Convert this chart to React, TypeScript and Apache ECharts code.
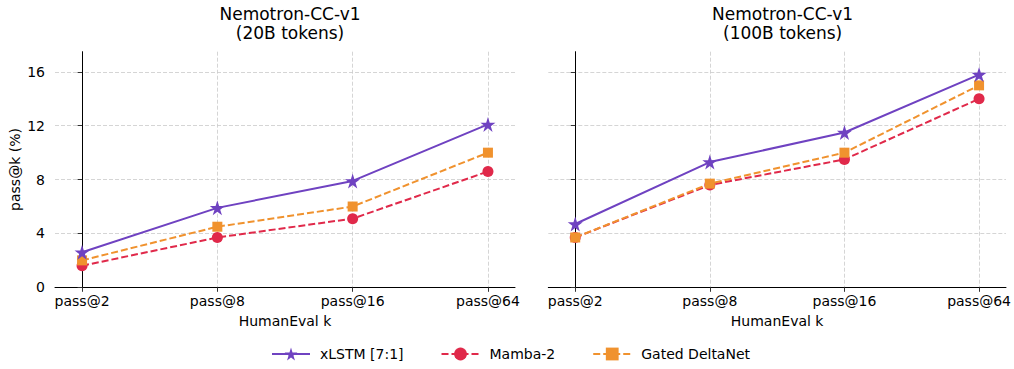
import React, { useEffect, useRef } from "react";
import * as echarts from "echarts";

const categories = ["pass@2", "pass@8", "pass@16", "pass@64"];
const xlstm20 = [2.6, 5.9, 7.9, 12.1];
const mamba20 = [1.6, 3.7, 5.1, 8.6];
const gdn20 = [2.0, 4.5, 6.0, 10.0];
const xlstm100 = [4.7, 9.3, 11.5, 15.8];
const mamba100 = [3.7, 7.6, 9.5, 14.0];
const gdn100 = [3.7, 7.7, 10.0, 15.0];
const yTicks = [0, 4, 8, 12, 16];
const titles = ["Nemotron-CC-v1\n(20B tokens)", "Nemotron-CC-v1\n(100B tokens)"];
const seriesNames = ["xLSTM [7:1]", "Mamba-2", "Gated DeltaNet"];
const colors = ["#6f42c1", "#e0294a", "#f0922e"];
const symbols = ["path://M0,-1 L0.2245,-0.309 L0.951,-0.309 L0.363,0.118 L0.588,0.809 L0,0.382 L-0.588,0.809 L-0.363,0.118 L-0.951,-0.309 L-0.2245,-0.309 Z", "circle", "rect"];
const symbolSizes = [15, 11, 10];

const FONT = "DejaVu Sans";

export default function App() {
  const ref = useRef<HTMLDivElement>(null);
  useEffect(() => {
    if (!ref.current) return;
    const chart = echarts.init(ref.current, null, { renderer: "svg" });
    const xIdx = categories.map((_, i) => i);
    const grids = [
      { left: 55, top: 51.7, width: 460, height: 235.6 },
      { left: 548.3, top: 51.7, width: 459, height: 235.6 },
    ];
    const gridLine = { show: true, lineStyle: { color: "#cacaca", type: [4, 2], width: 0.8 } };
    const xAxes = grids.map((_, gi) => ({
      type: "value",
      gridIndex: gi,
      min: -0.2,
      max: 3.2,
      name: "HumanEval k",
      nameLocation: "middle",
      nameGap: 27,
      nameTextStyle: { fontFamily: FONT, fontSize: 14, color: "#000" },
      axisLine: { show: true, onZero: false, lineStyle: { color: "#000", width: 1 } },
      axisTick: { show: true, length: 4.5, customValues: xIdx, lineStyle: { color: "#333" } },
      axisLabel: {
        customValues: xIdx,
        formatter: (v: number) => categories[Math.round(v)] ?? "",
        fontFamily: FONT,
        fontSize: 14,
        color: "#000",
        margin: 7,
      },
      splitLine: gridLine,
    }));
    const yAxes = grids.map((_, gi) => ({
      type: "value",
      gridIndex: gi,
      min: 0,
      max: 17.5,
      name: gi === 0 ? "pass@k (%)" : "",
      nameLocation: "middle",
      nameGap: 33,
      nameTextStyle: { fontFamily: FONT, fontSize: 14, color: "#000" },
      axisLine: { show: true, lineStyle: { color: "#000", width: 1 } },
      axisTick: { show: true, length: 4.5, customValues: yTicks, lineStyle: { color: "#333" } },
      axisLabel: {
        show: gi === 0,
        customValues: yTicks,
        fontFamily: FONT,
        fontSize: 14,
        color: "#000",
        margin: 10,
      },
      splitLine: gridLine,
    }));
    const dataSets = [
      [xlstm20, mamba20, gdn20],
      [xlstm100, mamba100, gdn100],
    ];
    const zs = [5, 3, 4];
    const series: any[] = [];
    dataSets.forEach((set, gi) => {
      set.forEach((vals, si) => {
        series.push({
          type: "line",
          name: seriesNames[si],
          xAxisIndex: gi,
          yAxisIndex: gi,
          z: zs[si],
          data: vals.map((v, i) => [i, v]),
          symbol: symbols[si],
          symbolSize: symbolSizes[si],
          showSymbol: true,
          itemStyle: { color: colors[si], opacity: 1 },
          lineStyle: { color: colors[si], width: 2, type: si === 0 ? "solid" : [7, 3] },
          emphasis: { disabled: true },
        });
      });
    });
    chart.setOption({
      animation: false,
      textStyle: { fontFamily: FONT },
      title: titles.map((t, gi) => ({
        text: t,
        left: gi === 0 ? 285 : 777.6,
        top: -1,
        textAlign: "center",
        textStyle: { fontFamily: FONT, fontSize: 17, fontWeight: "normal", color: "#000", lineHeight: 19 },
      })),
      legend: {
        data: seriesNames,
        left: 266,
        top: 342,
        itemWidth: 38,
        itemHeight: 16,
        itemGap: 37,
        textStyle: { fontFamily: FONT, fontSize: 14, color: "#000", padding: [0, 0, 0, 5] },
      },
      grid: grids,
      xAxis: xAxes,
      yAxis: yAxes,
      series,
    });
    return () => chart.dispose();
  }, []);
  return (
    <div
      ref={ref}
      style={{ position: "fixed", left: 0, top: 0, width: 1014, height: 369, background: "#fff" }}
    />
  );
}
